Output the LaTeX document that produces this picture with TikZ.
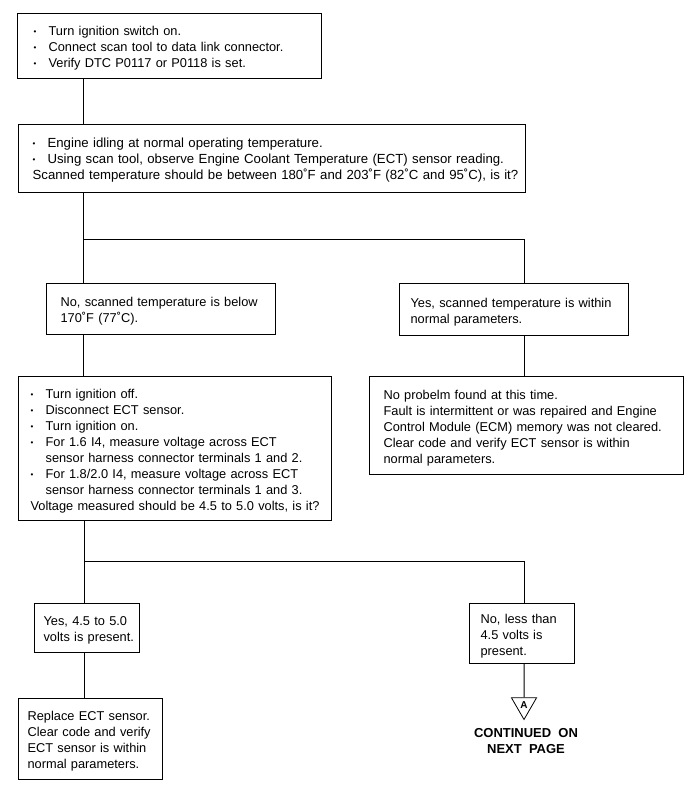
\documentclass[tikz,border=0pt]{standalone}
\usepackage{fontspec}
\setmainfont{Liberation Sans}
\usetikzlibrary{positioning,shapes.geometric}

\newcommand{\flowfont}{\fontsize{12.8}{16}\selectfont}
\newcommand{\blt}{\makebox[15pt][l]{\raisebox{1pt}{\fontsize{8}{8}\selectfont\textbullet}}}
\newcommand{\hang}{\hspace*{15pt}}

\begin{document}
\begin{tikzpicture}[x=1pt,y=-1pt,
  box/.style={draw,line width=1.2pt,inner xsep=0pt,inner ysep=2pt,anchor=north west,
    font=\flowfont,execute at begin node={\leftskip=#1\rightskip=-12pt plus 1fil\relax\rule{0pt}{13.5pt}}},
  box/.default=12pt,
  wire/.style={line width=1pt}]
\useasboundingbox (0,0) rectangle (700,800);

% first check
\node[box=16pt,text width=304pt,minimum height=65pt] (scan) at (17,13)
  {\blt Turn ignition switch on.\\
   \blt Connect scan tool to data link connector.\\
   \blt Verify DTC P0117 or P0118 is set.};
\node[box=14pt,text width=507pt,minimum height=68pt,font=\fontsize{13.2}{16}\selectfont] (idle) at (18,124)
  {\blt Engine idling at normal operating temperature.\\
   \blt Using scan tool, observe Engine Coolant Temperature (ECT) sensor reading.\\
   Scanned temperature should be between 180˚F and 203˚F (82˚C and 95˚C), is it?};

% answers
\node[box=14pt,text width=229pt,minimum height=51pt] (belowT) at (46,283)
  {No, scanned temperature is below\\170˚F (77˚C).};
\node[box=11pt,text width=229pt,minimum height=52pt] (withinT) at (399,283)
  {Yes, scanned temperature is within\\normal parameters.};

\node[box=12pt,text width=313pt,minimum height=144pt] (volt) at (18,376)
  {\blt Turn ignition off.\\
   \blt Disconnect ECT sensor.\\
   \blt Turn ignition on.\\
   \blt For 1.6 I4, measure voltage across ECT\\
   \hang sensor harness connector terminals 1 and 2.\\
   \blt For 1.8/2.0 I4, measure voltage across ECT\\
   \hang sensor harness connector terminals 1 and 3.\\
   Voltage measured should be 4.5 to 5.0 volts, is it?};
\node[box=14pt,text width=314pt,minimum height=98pt] (nofault) at (369,376)
  {No probelm found at this time.\\
   Fault is intermittent or was repaired and Engine\\
   Control Module (ECM) memory was not cleared.\\
   Clear code and verify ECT sensor is within\\
   normal parameters.};

\node[box=9pt,text width=105pt,minimum height=49pt] (voltok) at (34,603)
  {Yes, 4.5 to 5.0\\volts is present.};
\node[box=11pt,text width=105pt,minimum height=60pt] (voltlow) at (469,603)
  {No, less than\\4.5 volts is\\present.};
\node[box=9pt,text width=144pt,minimum height=81pt] (replace) at (18,698)
  {Replace ECT sensor.\\Clear code and verify\\ECT sensor is within\\normal parameters.};

% off-page connector
\node[draw,line width=0.8pt,regular polygon,regular polygon sides=3,shape border rotate=180,
  inner sep=0pt,minimum size=29pt,font=\bfseries\fontsize{10}{10}\selectfont] (conA) at (524,705) {A};
\node[below=5pt of conA,xshift=2pt,align=center,font=\bfseries\fontsize{13}{16}\selectfont] (contd)
  {CONTINUED\ \ ON\\NEXT\ \ PAGE};

% lines
\coordinate (xl) at (83,0);
\coordinate (xl2) at (84,0);
\coordinate (xr) at (524,0);
\coordinate (fork1) at (83,239);
\coordinate (fork2) at (84,561);
\draw[wire] (scan.south -| xl) -- (idle.north -| xl);
\draw[wire] (idle.south -| xl) -- (belowT.north -| xl);
\draw[wire] (fork1) -| (withinT.north -| xr);
\draw[wire] (withinT.south -| xr) -- (nofault.north -| xr);
\draw[wire] (belowT.south -| xl) -- (volt.north -| xl);
\draw[wire] (volt.south -| xl2) -- (voltok.north -| xl2);
\draw[wire] (fork2) -| (voltlow.north -| xr);
\draw[wire] (voltok.south -| xl2) -- (replace.north -| xl2);
\draw[wire] (voltlow.south -| xr) -- (conA.north);
\end{tikzpicture}
\end{document}
